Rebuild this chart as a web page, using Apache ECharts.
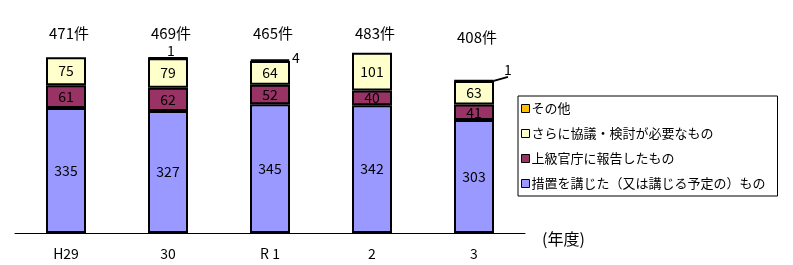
<!DOCTYPE html>
<html><head><meta charset="utf-8">
<script src="https://cdn.jsdelivr.net/npm/echarts@6/dist/echarts.min.js"></script>
<style>html,body{margin:0;padding:0;background:#fff}#c{width:793px;height:265px}</style>
</head><body><div id="c"></div>
<script>
const categories = ['H29', '30', 'R 1', '2', '3'];
const sochi = [335, 327, 345, 342, 303];
const houkoku = [61, 62, 52, 40, 41];
const kyougi = [75, 79, 64, 101, 63];
const sonota = [0, 1, 4, 0, 1];
const totals = [471, 469, 465, 483, 408];
const seriesNames = ['措置を講じた（又は講じる予定の）もの', '上級官庁に報告したもの', 'さらに協議・検討が必要なもの', 'その他'];

const FONT = '"Noto Sans CJK JP", "Noto Sans", sans-serif';
const chart = echarts.init(document.getElementById('c'));
const colors = ['#9999FF', '#993366', '#FFFFCC', '#FFC000'];
const base = (name, data, color) => ({
  name, type: 'bar', stack: 's', barWidth: 40,
  data: data.map(v => v ? v : { value: v, itemStyle: { borderWidth: 0 } }),
  itemStyle: { color, borderColor: '#000', borderWidth: 2 },
  label: { show: true, position: 'inside', color: '#000', fontSize: 14, fontFamily: FONT },
  emphasis: { disabled: true }
});
const s3 = base(seriesNames[3], sonota, colors[3]);
s3.data = sonota.map((v, i) => ({
  value: v,
  itemStyle: v ? {} : { borderWidth: 0 },
  labelLine: { show: i === sonota.length - 1 }
}));
s3.label = {
  show: true, position: 'top', distance: 2, color: '#000', fontSize: 14, fontFamily: FONT,
  formatter: p => p.value ? String(p.value) : ''
};
s3.labelLine = { show: false, lineStyle: { color: '#000', width: 2 } };
s3.labelLayout = p => {
  if (p.dataIndex === 1) return { dx: 3, dy: 3 };
  if (p.dataIndex === 2) return { dx: 26, dy: 8 };
  if (p.dataIndex === 4) return { dx: 34, dy: -1 };
  return {};
};
const totalSeries = {
  name: 'total', type: 'bar', stack: 's', data: totals.map(() => 0), barWidth: 40,
  itemStyle: { color: 'transparent', borderWidth: 0 }, silent: true,
  label: { show: true, position: 'top', color: '#000', fontSize: 15, fontFamily: FONT,
    formatter: p => totals[p.dataIndex] + '件' },
  labelLayout: p => ({ x: p.rect.x + p.rect.width / 2 + 3, y: p.dataIndex === 4 ? 37 : 33, align: 'center', verticalAlign: 'middle' })
};

chart.setOption({
  animation: false,
  textStyle: { fontFamily: FONT },
  grid: { left: 15, width: 510, top: 9, bottom: 32 },
  legend: {
    data: [seriesNames[3], seriesNames[2], seriesNames[1], seriesNames[0]],
    orient: 'vertical', left: 518, top: 96, width: 263,
    borderColor: '#000', borderWidth: 1, padding: [6, 12, 6, 3],
    icon: 'rect', itemWidth: 8, itemHeight: 8, itemGap: 12,
    itemStyle: { borderWidth: 1, borderColor: '#000' },
    textStyle: { fontSize: 13, color: '#000', fontFamily: FONT, padding: [0, 0, 0, -3] },
    selectedMode: false
  },
  xAxis: {
    type: 'category', data: categories,
    axisLine: { lineStyle: { color: '#000', width: 1 } },
    axisTick: { inside: true, length: 5, lineStyle: { color: '#000' } },
    axisLabel: { color: '#000', fontSize: 14, margin: 14, fontFamily: FONT },
    name: '(年度)', nameLocation: 'end', nameGap: 17,
    nameTextStyle: { color: '#000', fontSize: 16, fontFamily: FONT, verticalAlign: 'top', lineHeight: 12 }
  },
  yAxis: { type: 'value', min: 0, max: 600, show: false, splitLine: { show: false } },
  series: [
    base(seriesNames[0], sochi, colors[0]),
    base(seriesNames[1], houkoku, colors[1]),
    base(seriesNames[2], kyougi, colors[2]),
    s3,
    totalSeries
  ]
});
</script></body></html>
